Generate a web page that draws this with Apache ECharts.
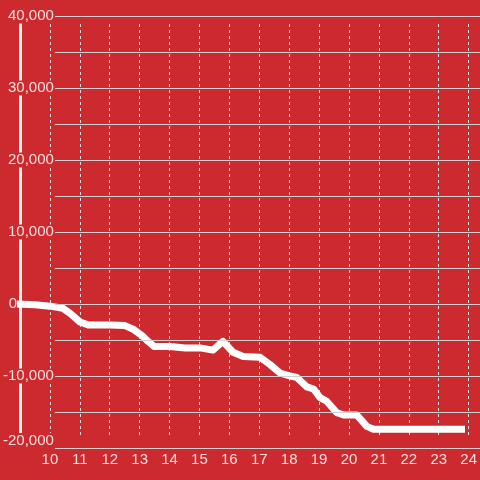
<!DOCTYPE html>
<html>
<head>
<meta charset="utf-8">
<script src="https://cdn.jsdelivr.net/npm/echarts@6/dist/echarts.min.js"></script>
<style>
  html, body { margin: 0; padding: 0; background: #cc2a2f; }
  #chart { width: 480px; height: 480px; }
</style>
</head>
<body>
<div id="chart"></div>
<script>
// hour of day and running total
var hours = [8.9, 9.5, 10.0, 10.43, 10.67, 11.0, 11.27, 12.0, 12.5, 12.77, 13.1, 13.27, 13.47, 14.0, 14.5, 15.0, 15.43, 15.76, 16.1, 16.44, 17.0, 17.33, 17.67, 18.0, 18.22, 18.56, 18.78, 19.0, 19.22, 19.56, 19.78, 20.22, 20.56, 20.78, 23.83];
var values = [0, -100, -300, -600, -1300, -2500, -2900, -2900, -3000, -3500, -4500, -5200, -5900, -5900, -6100, -6100, -6400, -5200, -6700, -7300, -7400, -8400, -9600, -10000, -10200, -11500, -11800, -13000, -13500, -15100, -15400, -15400, -17000, -17400, -17400];

var xMin = 9, xMax = 24.33;
var yMin = -20000, yMax = 40000, yStep = 5000, yLabelStep = 10000;

var bg = '#cc2a2f';
var fg = '#f2f2f2';
var labelColor = '#f6dede';

var chartDom = document.getElementById('chart');
var myChart = echarts.init(chartDom);
var option;

var pts = hours.map(function (h, i) { return [h, values[i]]; });

option = {
  backgroundColor: bg,
  animation: false,
  textStyle: { fontFamily: 'Liberation Sans' },
  grid: [
    { left: 20, right: 0, top: 16, bottom: 32 },
    { left: 20, right: 0, top: 24, bottom: 45 },
    { left: 53, right: 0, top: 16, bottom: 32 }
  ],
  xAxis: [
    { gridIndex: 0, type: 'value', min: xMin, max: xMax, show: false },
    {
      gridIndex: 1, type: 'value', min: xMin, max: xMax, interval: 1,
      axisLine: { show: false },
      axisTick: { show: false },
      axisLabel: {
        color: labelColor, fontSize: 15, margin: 17,
        showMinLabel: false, showMaxLabel: false
      },
      splitLine: {
        show: true, showMaxLine: false,
        lineStyle: { color: '#dcdcdc', width: 1, type: [3, 3] }
      }
    },
    { gridIndex: 2, type: 'value', show: false }
  ],
  yAxis: [
    { gridIndex: 0, type: 'value', min: yMin, max: yMax, show: false },
    {
      gridIndex: 1, type: 'value', min: yMin, max: yMax,
      axisLine: { show: true, lineStyle: { color: fg, width: 3 } },
      axisTick: { show: false },
      axisLabel: { show: false },
      splitLine: { show: false }
    },
    {
      gridIndex: 2, type: 'value', min: yMin, max: yMax, interval: yStep,
      z: 5,
      axisLine: { show: false },
      axisTick: { show: false },
      axisLabel: {
        color: labelColor, fontSize: 15, margin: 1,
        verticalAlignMinLabel: 'bottom',
        rich: {
          n: { color: labelColor, fontSize: 15, backgroundColor: bg },
          z: { color: labelColor, fontSize: 15, width: 45, align: 'left' }
        },
        formatter: function (v) {
          if (v % yLabelStep !== 0) return '';
          if (v === 0) return '{z|0}';
          return '{n|' + v.toLocaleString('en-US') + '}';
        }
      },
      splitLine: { show: true, lineStyle: { color: '#cfcfcf', width: 1 } }
    }
  ],
  series: [
    {
      type: 'line',
      xAxisIndex: 0,
      yAxisIndex: 0,
      data: pts,
      clip: false,
      symbol: 'none',
      z: 4,
      lineStyle: { color: '#ffffff', width: 7, join: 'round' },
      markLine: {
        silent: true,
        symbol: 'none',
        label: { show: false },
        lineStyle: { color: fg, width: 3, type: 'solid' },
        data: [[{ coord: [hours[0], 0] }, { coord: [xMax, 0] }]]
      }
    }
  ]
};

option && myChart.setOption(option);
</script>
</body>
</html>
